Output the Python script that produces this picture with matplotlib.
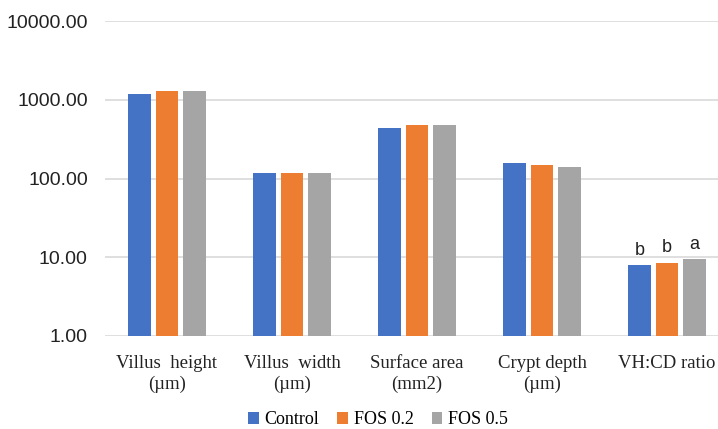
import matplotlib
matplotlib.use("Agg")
import matplotlib.pyplot as plt
import numpy as np

categories = ["Villus  height\n(\u00b5m)", "Villus  width\n(\u00b5m)", "Surface area\n(mm2)", "Crypt depth\n(\u00b5m)", "VH:CD ratio"]
series_names = ["Control", "FOS 0.2", "FOS 0.5"]
control = [1185, 116, 442, 156, 7.9]
fos02 = [1290, 116, 473, 147, 8.5]
fos05 = [1290, 116, 473, 140, 9.4]
vhcd_letters = ["b", "b", "a"]
yticks = [1, 10, 100, 1000, 10000]
colors = ["#4472C4", "#ED7D31", "#A5A5A5"]

fig = plt.figure(figsize=(7.18, 4.29), dpi=100)
ax = fig.add_axes([104.5/718, 1-336/429, 625/718, (336-21)/429])
ax.set_yscale("log")
ax.set_ylim(1, 10000)
ax.set_xlim(-0.5, len(categories)-0.5)

x = np.arange(len(categories))
pitch = 0.22
width = 0.178
allvals = [control, fos02, fos05]
for i, (name, vals) in enumerate(zip(series_names, allvals)):
    ax.bar(x + (i-1)*pitch, vals, width, color=colors[i], label=name, zorder=3)

# letters over VH:CD bars
for i in range(3):
    v = allvals[i][-1]
    ax.text(x[-1] + (i-1)*pitch, v*1.22, vhcd_letters[i], ha="center", va="bottom",
            fontsize=13, family="Liberation Sans", color="#222222")

ax.set_yticks(yticks)
ax.set_yticklabels([f"{t:.2f}" for t in yticks], fontsize=14, family="Liberation Sans", color="#222222")
ax.yaxis.set_minor_locator(matplotlib.ticker.NullLocator())
ax.grid(axis="y", color="#d9d9d9", linewidth=1.2, zorder=0)
for s in ["top", "right", "left", "bottom"]:
    ax.spines[s].set_visible(False)
ax.tick_params(axis="y", length=0, pad=12)
ax.set_xticks(x)
ax.set_xticklabels(categories, fontsize=13.5, family="Liberation Serif", color="#222222", linespacing=1.25)
ax.tick_params(axis="x", length=0, pad=14)

leg = fig.legend(loc="center", bbox_to_anchor=(378/718, 1-420/429), ncol=3, frameon=False,
                 prop={"family": "Liberation Serif", "size": 13}, handlelength=0.6, handleheight=0.6,
                 handletextpad=0.3, columnspacing=1.0)

fig.savefig("out.png", dpi=100)
